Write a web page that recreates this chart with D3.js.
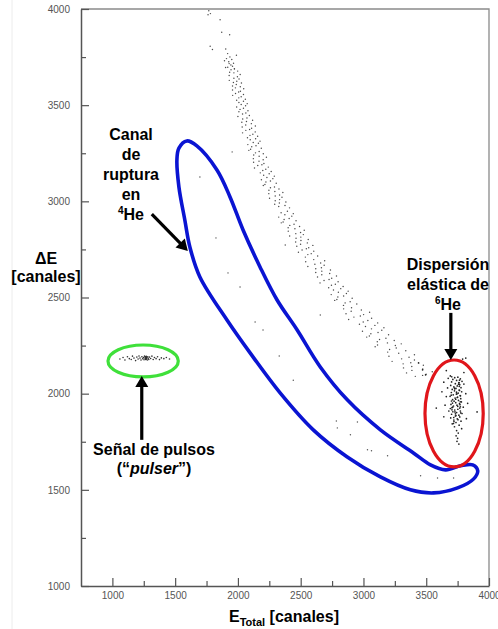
<!DOCTYPE html>
<html><head><meta charset="utf-8">
<script src="https://cdn.jsdelivr.net/npm/d3@7"></script>
<style>
body{margin:0;background:#fff}
svg{display:block}
text{font-family:"Liberation Sans",Arial,sans-serif}
</style>
</head><body><svg id="c" width="498" height="629"></svg>
<script>
// ---------- data ----------
const xTicks = [1000,1500,2000,2500,3000,3500,4000];
const yTicks = [1000,1500,2000,2500,3000,3500,4000];
const xMinor = [1250,1750,2250,2750,3250,3750];
const yMinor = [1250,1750,2250,2750,3250,3750];

// 6He band (ΔE vs E_total)
const bandPoints = [
[1768,3991],[1781,3976],[1762,3970],[1858,3944],[1871,3879],[1934,3866],[1779,3806],[1797,3789],[1903,3792],[1918,3768],[1936,3751],[1909,3742],[1951,3737],[1927,3726],[1965,3718],[1944,3709],[1919,3697],[1988,3760],[1893,3731],[1957,3702],[1930,3716],[1972,3690],
[1902,3696],[1972,3688],[1945,3684],[1998,3677],[1934,3671],[1968,3668],[2018,3659],[1930,3654],[1996,3648],[1968,3640],[2009,3636],[1931,3629],[1991,3624],[1964,3618],[2028,3615],[1987,3607],[1957,3600],[2019,3596],[1980,3590],[2046,3585],[1957,3579],[2020,3572],[2006,3568],[1981,3561],[2044,3555],[1958,3551],[2026,3544],[2007,3538],[2059,3531],[1990,3526],[2044,3520],[2008,3514],[2074,3508],[2026,3503],[2061,3497],[1990,3490],[2044,3484],[2017,3478],[2080,3471],[2008,3466],[2063,3459],[2037,3454],
[2091,3446],[2000,3441],[2072,3433],[2038,3428],[2117,3422],[2068,3415],[2031,3411],[2107,3404],[2062,3397],[2139,3392],[2034,3386],[2109,3380],[2093,3373],[2063,3369],[2138,3361],[2037,3356],[2119,3349],[2096,3343],[2157,3338],[2076,3331],[2141,3325],[2098,3320],[2176,3313],[2122,3306],[2163,3302],[2079,3295],[2144,3289],[2110,3284],[2186,3276],[2101,3271],[2087,3265],[2169,3259],[2140,3252],[2202,3247],[2126,3241],[2169,3234],[2227,3229],[2123,3222],[2201,3216],[2168,3209],
[2125,3203],[2207,3197],[2191,3190],[2158,3186],[2242,3178],[2132,3173],[2222,3167],[2198,3160],[2265,3155],[2178,3148],[2249,3143],[2205,3136],[2290,3131],[2231,3124],[2278,3118],[2187,3112],[2259,3106],[2223,3101],[2305,3094],[2215,3088],[2202,3082],[2291,3075],[2259,3071],[2327,3064],[2247,3058],[2294,3051],[2358,3046],[2246,3040],[2332,3033],[2297,3028],[2351,3021],[2252,3016],[2332,3009],[2297,3003],[2382,2997],[2330,2991],[2293,2985],[2375,2978],[2325,2973],[2411,2966],
[2394,2948],[2344,2941],[2441,2936],[2374,2930],[2429,2923],[2325,2918],[2408,2911],[2368,2906],[2463,2899],[2360,2893],[2345,2888],[2447,2881],[2413,2875],[2491,2869],[2400,2863],[2454,2857],[2528,2850],[2401,2845],[2499,2838],[2461,2832],[2521,2827],[2412,2820],[2501,2814],[2463,2808],[2560,2802],[2502,2796],[2460,2789],[2553,2784],[2499,2777],[2597,2771],[2469,2766],[2564,2759],[2545,2753],[2511,2747],[2604,2741],[2482,2735],[2584,2728],[2557,2723],[2635,2716],[2537,2710],
[2604,2697],[2691,2691],[2540,2686],[2659,2679],[2613,2673],[2687,2668],[2557,2661],[2665,2655],[2620,2649],[2737,2643],[2668,2637],[2620,2630],[2731,2625],[2668,2618],[2785,2612],[2634,2607],[2747,2600],[2726,2594],[2686,2588],[2798,2582],[2654,2576],[2776,2569],[2745,2564],[2838,2557],[2723,2551],[2819,2546],[2761,2539],[2878,2533],[2800,2527],[2864,2521],[2743,2515],[2842,2508],[2796,2503],[2910,2496],[2788,2490],[2771,2485],[2894,2478],[2854,2472],[2947,2466],[2841,2459],
[2905,2447],[2842,2441],[2983,2435],[2902,2429],[3049,2423],[2861,2416],[3001,2411],[2975,2404],[2924,2398],[3065,2392],[2882,2386],[3035,2380],[2998,2373],[3113,2368],[2968,2361],[3091,2355],[3016,2349],[3163,2343],[3064,2337],[3146,2330],[2992,2325],[3116,2318],[3059,2312],[3200,2306],[3047,2300],[3026,2294],[3179,2288],[3128,2282],[3245,2276],[3110,2270],[3191,2264],[3301,2259],[3112,2253],[3254,2250],
[3093,2244],[3261,2237],[3208,2230],[3337,2223],[3193,2216],[3281,2210],[3406,2202],[3203,2195],[3363,2189],[3304,2181],[3406,2175],[3228,2168],[3377,2161],[3316,2155],[3477,2148],[3385,2141],[3319,2134],[3472,2128],[3386,2121],[3548,2114],[3343,2108],[3499,2101],[3471,2095],[3413,2090]
];

// sparse events inside the 4He break-up channel
const channelPoints = [
[1697,3127],[1954,3257],[1825,2810],[1921,2628],[2017,2555],[2377,2773],[2137,2373],[2200,2331],[2329,2196],[2441,2070],
[2784,1858],[2792,1822],[2896,1786],[2952,1853],[3032,1708],[3064,1703],[3192,1677],[3455,1573],[3590,1562],[3718,1562],[2656,2409]
];

// 6He elastic scattering cluster
const elasticPoints = [
[3692,2092],[3752,2086],[3727,2083],[3772,2077],[3712,2074],[3742,2069],[3785,2064],[3702,2061],[3760,2056],[3732,2052],[3767,2047],[3695,2043],[3747,2040],[3720,2035],[3777,2031],[3737,2027],[3707,2022],[3762,2019],[3725,2015],[3782,2010],
[3700,2006],[3755,2003],[3740,1998],[3715,1994],[3770,1990],[3690,1986],[3750,1982],[3730,1977],[3775,1974],[3710,1969],[3757,1965],[3722,1961],[3780,1957],[3735,1953],[3765,1948],[3697,1944],[3745,1940],[3717,1936],[3772,1932],[3705,1927],
[3692,1923],[3752,1919],[3727,1915],[3772,1910],[3712,1906],[3742,1902],[3785,1897],[3702,1893],[3760,1888],[3732,1884],[3767,1879],[3695,1874],[3747,1869],[3720,1863],[3777,1857],[3737,1850],[3707,1843],[3762,1836],[3725,1828],[3782,1818],
[3765,2070],[3761,2058],[3757,2049],[3763,2038],[3725,2029],[3765,2017],[3741,2008],[3745,1999],[3773,1989],[3747,1980],[3735,1971],[3701,1962],[3709,1951],[3769,1943],[3751,1934],[3767,1925],[3705,1916],[3729,1905],[3733,1895],[3737,1886],
[3719,1876],[3753,1865],[3721,1855],[3717,1845],[3703,2088],[3727,2025],[3699,1992],[3771,1958],[3711,1930],[3775,1900],
[3742,1808],[3755,1795],[3738,1781],[3750,1768],[3745,1752],[3760,1738],
[3640,2060],[3625,2010],[3660,1985],[3650,1940],[3815,2000],[3830,1950],[3905,1905],[3640,1880],[3800,2110],[3815,2185],[3790,2180],[3580,1925],[3660,2120],[3820,1870],[3471,2124],[3495,2098],[3439,2160],[3670,2030],[3800,2050],[3680,1910],[3795,1930],[3675,2080]
];

// pulser events
const pulserPoints = [
[1060,2180],[1085,2188],[1100,2175],[1120,2192],[1135,2182],[1150,2178],[1160,2195],[1172,2185],[1185,2172],[1195,2190],[1205,2180],[1212,2196],[1220,2185],[1228,2175],[1235,2192],[1242,2182],[1248,2188],[1252,2176],[1256,2195],[1260,2184],[1262,2190],[1265,2178],[1268,2186],[1270,2194],[1272,2181],[1275,2188],[1278,2175],[1282,2192],[1286,2184],[1290,2178],[1296,2190],[1305,2183],[1315,2195],[1325,2178],[1335,2188],[1348,2182],[1360,2192],[1375,2177],[1390,2186],[1410,2182],[1430,2188],[1455,2180],
[1266,2184],[1268,2190],[1270,2186],[1264,2188],[1272,2184],[1268,2182],[1266,2192],[1270,2180]
];

// outline of the 4He break-up channel cut
const channelContour = [
[1593,3314],[1673,3288],[1833,3163],[1937,3023],[2041,2851],[2176,2659],[2312,2487],[2472,2331],[2656,2139],[2871,1968],[3135,1812],[3398,1692],[3534,1630],[3654,1604],[3774,1625],[3870,1630],[3910,1599],[3878,1557],[3750,1510],[3558,1484],[3374,1500],[3135,1567],[2871,1671],[2600,1812],[2336,2004],[2097,2212],[1913,2383],[1697,2607],[1617,2763],[1577,2903],[1530,3075],[1514,3215],[1530,3277]
];

// ellipse cuts: [cx, cy, rx, ry]
const elasticCut = [3722,1897,232,278];
const pulserCut = [1245,2170,280,83];

// arrows: [from, to]
const arrowList = [
  [[1314,2934],[1601,2742]],
  [[3696,2420],[3696,2175]],
  [[1234,1760],[1234,2092]]
];

// ---------- drawing ----------
const svg = d3.select('#c');
svg.append('rect').attr('width',498).attr('height',629).attr('fill','#fff');
svg.append('line').attr('x1',12).attr('x2',12).attr('y1',0).attr('y2',629).attr('stroke','#ececec').attr('stroke-width',1);

const x = d3.scaleLinear().domain([750,4000]).range([81,489]);
const y = d3.scaleLinear().domain([1000,4000]).range([586,9]);

svg.append('path').attr('d',`M${x(750)},${y(4000)}H${x(4000)}V${y(1000)}`).attr('fill','none').attr('stroke','#8a8a8a').attr('stroke-width',1.3);

function styleAxis(g){
  g.select('.domain').attr('stroke','#555').attr('stroke-width',1.5);
  g.selectAll('.tick line').attr('stroke','#555').attr('stroke-width',1.2);
  g.selectAll('.tick text').attr('fill','#555').style('font-size','10px').style('font-family','"Liberation Sans",Arial,sans-serif');
}
const gxm = svg.append('g').attr('transform',`translate(0,${y(1000)})`)
  .call(d3.axisBottom(x).tickValues(xMinor).tickSizeInner(-5).tickSizeOuter(0).tickFormat(''));
gxm.select('.domain').remove(); gxm.selectAll('line').attr('stroke','#555').attr('stroke-width',1.2);
const gym = svg.append('g').attr('transform',`translate(${x(750)},0)`)
  .call(d3.axisLeft(y).tickValues(yMinor).tickSizeInner(-5).tickSizeOuter(0).tickFormat(''));
gym.select('.domain').remove(); gym.selectAll('line').attr('stroke','#555').attr('stroke-width',1.2);

const gx = svg.append('g').attr('transform',`translate(0,${y(1000)})`)
  .call(d3.axisBottom(x).tickValues(xTicks).tickSizeInner(-8).tickSizeOuter(0).tickPadding(6).tickFormat(d3.format('d')));
styleAxis(gx);
const gy = svg.append('g').attr('transform',`translate(${x(750)},0)`)
  .call(d3.axisLeft(y).tickValues(yTicks).tickSizeInner(-8).tickSizeOuter(0).tickPadding(11).tickFormat(d3.format('d')));
styleAxis(gy);

const dots = svg.append('g');
function plotPts(arr, col, r){
  dots.selectAll(null).data(arr).enter().append('circle')
    .attr('cx',d=>x(d[0])).attr('cy',d=>y(d[1])).attr('r',r).attr('fill',col);
}
plotPts(bandPoints,'#4a4a4a',0.72);
plotPts(channelPoints,'#555',0.72);
plotPts(elasticPoints,'#222',0.85);
plotPts(pulserPoints,'#333',0.8);

svg.append('path').datum(channelContour)
  .attr('d', d3.line().x(d=>x(d[0])).y(d=>y(d[1])).curve(d3.curveCatmullRomClosed.alpha(0.5)))
  .attr('fill','none').attr('stroke','#0a14d2').attr('stroke-width',3.6);

function ell(c,col){
  svg.append('ellipse').attr('cx',x(c[0])).attr('cy',y(c[1]))
    .attr('rx',x(c[0]+c[2])-x(c[0])).attr('ry',y(c[1]-c[3])-y(c[1]))
    .attr('fill','none').attr('stroke',col).attr('stroke-width',3.2);
}
ell(elasticCut,'#e0161b');
ell(pulserCut,'#3fe03a');

arrowList.forEach(a=>{
  const x0=x(a[0][0]), y0=y(a[0][1]), x1=x(a[1][0]), y1=y(a[1][1]);
  const dx=x1-x0, dy=y1-y0, L=Math.hypot(dx,dy), ux=dx/L, uy=dy/L;
  const hl=11, hw=6.5;
  const bx=x1-ux*hl, by=y1-uy*hl;
  svg.append('line').attr('x1',x0).attr('y1',y0).attr('x2',bx+ux*1).attr('y2',by+uy*1)
    .attr('stroke','#000').attr('stroke-width',3.2);
  svg.append('path').attr('d',`M${x1},${y1}L${bx-uy*hw},${by+ux*hw}L${bx+uy*hw},${by-ux*hw}Z`).attr('fill','#000');
});

const ann = svg.append('g').attr('font-weight','bold').attr('font-size','16px').attr('fill','#000').attr('text-anchor','middle');
function lineText(xp, yp, parts){
  const t = ann.append('text').attr('x',xp).attr('y',yp);
  parts.forEach(p=>{
    const s=t.append('tspan').text(p.t);
    if(p.size) s.attr('font-size',p.size);
    if(p.dy) s.attr('dy',p.dy);
    if(p.it) s.attr('font-style','italic');
  });
  return t;
}
lineText(131,140,[{t:'Canal'}]);
lineText(131,160,[{t:'de'}]);
lineText(131,180,[{t:'ruptura'}]);
lineText(131,200,[{t:'en'}]);
lineText(131,220,[{t:'4',size:'10px',dy:-6},{t:'He',dy:6}]);

lineText(448,270,[{t:'Dispersión'}]);
lineText(448,290,[{t:'elástica de'}]);
lineText(448,310,[{t:'6',size:'10px',dy:-6},{t:'He',dy:6}]);

lineText(154,455,[{t:'Señal de pulsos'}]);
lineText(154,474,[{t:'(“'},{t:'pulser',it:true},{t:'”)'}]);

lineText(46,264,[{t:'ΔE'}]);
lineText(46,282,[{t:'[canales]'}]);

lineText(284,622,[{t:'E'},{t:'Total',size:'11px',dy:4},{t:' [canales]',dy:-4}]);
</script>
</body></html>
